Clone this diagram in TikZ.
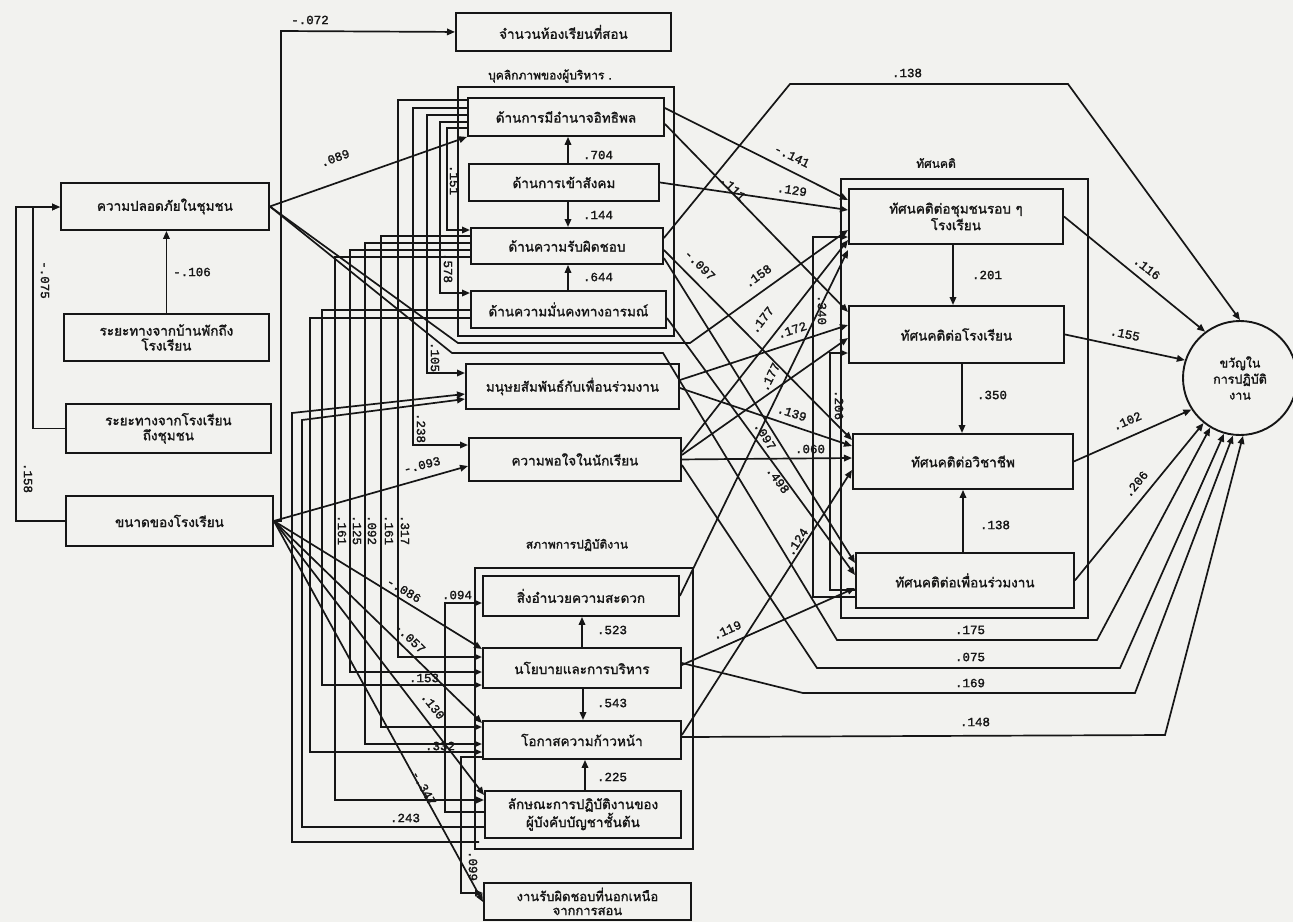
\documentclass[tikz,border=0pt]{standalone}
\usepackage{fontspec}
\newfontfamily\thai[Script=Thai,FakeBold=1.6]{Loma}
\newfontfamily\numf[FakeBold=1.8]{Liberation Mono}
\usetikzlibrary{arrows.meta}
\definecolor{paper}{RGB}{242,242,239}
\definecolor{ink}{RGB}{22,22,22}
\begin{document}
\begin{tikzpicture}[x=1pt,y=-1pt,
  box/.style={draw=ink,line width=1.9pt,inner sep=1pt,align=center,anchor=north west,
    font=\thai\fontsize{13.5}{15}\selectfont,text=ink},
  frm/.style={draw=ink,line width=1.9pt,anchor=north west,inner sep=0pt},
  ln/.style={draw=ink,line width=1.7pt},
  ar/.style={ln,-{Triangle[length=8pt,width=6.5pt]}},
  lab/.style={font=\numf\fontsize{12.5}{12.5}\selectfont,inner sep=0pt,text=ink},
  grp/.style={font=\thai\fontsize{12}{13}\selectfont,text=ink,inner sep=0pt}]
\useasboundingbox (0,0) rectangle (1293,922);
\fill[paper] (0,0) rectangle (1293,922);

% ---------- left column ----------
\node[box,minimum width=208,minimum height=47] (safety) at (60,182) {ความปลอดภัยในชุมชน};
\node[box,minimum width=205,minimum height=47] (dhome) at (63,313) {ระยะทางจากบ้านพักถึง\\โรงเรียน};
\node[box,minimum width=205,minimum height=49] (dcomm) at (65,403) {ระยะทางจากโรงเรียน\\ถึงชุมชน};
\node[box,minimum width=207,minimum height=50] (size) at (65,495) {ขนาดของโรงเรียน};
\node[box,minimum width=215,minimum height=38] (rooms) at (455,12) {จำนวนห้องเรียนที่สอน};

% ---------- personality ----------
\node[grp] (gp) at (550,76) {บุคลิกภาพของผู้บริหาร .};
\node[frm,minimum width=216,minimum height=249] (fp) at (457,86) {};
\node[box,minimum width=196,minimum height=38] (p1) at (467,97) {ด้านการมีอำนาจอิทธิพล};
\node[box,minimum width=190,minimum height=37] (p2) at (468,163) {ด้านการเข้าสังคม};
\node[box,minimum width=192,minimum height=36] (p3) at (470,227) {ด้านความรับผิดชอบ};
\node[box,minimum width=195,minimum height=37] (p4) at (470,290) {ด้านความมั่นคงทางอารมณ์};

\node[box,minimum width=213,minimum height=45] (hr) at (465,363) {มนุษยสัมพันธ์กับเพื่อนร่วมงาน};
\node[box,minimum width=212,minimum height=43] (sat) at (468,437) {ความพอใจในนักเรียน};

% ---------- working conditions ----------
\node[grp] (gw) at (577,545) {สภาพการปฏิบัติงาน};
\node[frm,minimum width=218,minimum height=281] (fw) at (474,567) {};
\node[box,minimum width=196,minimum height=40] (w1) at (482,575) {สิ่งอำนวยความสะดวก};
\node[box,minimum width=198,minimum height=40] (w2) at (482,647) {นโยบายและการบริหาร};
\node[box,minimum width=198,minimum height=38] (w3) at (482,720) {โอกาสความก้าวหน้า};
\node[box,minimum width=196,minimum height=47] (w4) at (484,790) {ลักษณะการปฏิบัติงานของ\\ผู้บังคับบัญชาชั้นต้น};
\node[box,minimum width=207,minimum height=37,font=\thai\fontsize{13}{14}\selectfont] (ex) at (483,882) {งานรับผิดชอบที่นอกเหนือ\\จากการสอน};
\coordinate (fwin) at (479,842);

% ---------- attitudes ----------
\node[grp] (ga) at (936,163) {ทัศนคติ};
\node[frm,minimum width=247,minimum height=439] (fa) at (840,178) {};
\node[box,minimum width=214,minimum height=55] (a1) at (848,188) {ทัศนคติต่อชุมชนรอบ ๆ\\โรงเรียน};
\node[box,minimum width=215,minimum height=57] (a2) at (848,305) {ทัศนคติต่อโรงเรียน};
\node[box,minimum width=220,minimum height=55] (a3) at (852,433) {ทัศนคติต่อวิชาชีพ};
\node[box,minimum width=218,minimum height=55] (a4) at (855,552) {ทัศนคติต่อเพื่อนร่วมงาน};

\node[draw=ink,line width=1.9pt,circle,minimum size=114,inner sep=0pt,align=center,
  font=\thai\fontsize{12.5}{16}\selectfont,text=ink] (morale) at (1240,378) {ขวัญใน\\การปฏิบัติ\\งาน};

% ---------- left connectors ----------
\draw[ar] (dhome.north) -- (dhome.north|-safety.south);
\draw[ar] (dcomm.west) -| (33,207) -- (safety.west|-0,207);
\draw[ar] (size.west) -| (16,207) -- (safety.west|-0,207);
\draw[ar] (size.east) -| (281,31) -- (rooms.west);
\draw[ar] (safety.east) -- (p1.south west);
\draw[ar] (safety.east) -- (458,343) -- (690,343) -- (a1.west|-0,230);
\draw[ar] (safety.east) -- (452,353) -- (663,353) -- (837,640) -- (1097,640) -- (morale.239);
\draw[ar] (size.east) -- (sat.west|-0,466);

% fan from school size
\draw[ar] (size.east) -- (w2.west|-0,649);
\draw[ar] (size.east) -- (w3.west|-0,723);
\draw[ar] (size.east) -- (w4.west|-0,795);
\draw[ar] (size.east) -- (ex.west|-0,902);

% ---------- bus lines ----------
\draw[ar] (p1.west|-0,128) -| (447,230) -- (p3.west|-0,230);
\draw[ar] (p1.west|-0,122) -| (440,293) -- (p4.west|-0,293);
\draw[ar] (p1.west|-0,115) -| (427,373) -- (hr.west|-0,373);
\draw[ar] (p1.west|-0,108) -| (413,445) -- (sat.west|-0,445);
\draw[ar] (p1.west|-0,100) -| (398,657) -- (w2.west|-0,657);
\draw[ar] (p3.west|-0,236) -| (381,727) -- (w3.west|-0,727);
\draw[ar] (p3.west|-0,243) -| (365,744) -- (w3.west|-0,744);
\draw[ar] (p3.west|-0,250) -| (350,672) -- (w2.west|-0,672);
\draw[ar] (p3.west|-0,257) -| (335,800) -- (w4.west|-0,800);
\draw[ar] (p4.west|-0,310) -| (322,685) -- (w2.west|-0,685);
\draw[ar] (p4.west|-0,318) -| (310,752) -- (w3.west|-0,752);
\draw[ar] (w4.west|-0,827) -| (302,420) -- (hr.west|-0,399);
\draw[ar] (fwin) -| (292,413) -- (hr.west|-0,394);
\draw[ar] (w4.west|-0,812) -| (445,603) -- (w1.west|-0,603);
\draw[ar] (w3.west|-0,757) -| (461,893) -- (ex.west|-0,893);

% ---------- inside groups ----------
\draw[ar] (p2.north-|568,0) -- (p1.south-|568,0);
\draw[ar] (p2.south-|568,0) -- (p3.north-|568,0);
\draw[ar] (p4.north-|568,0) -- (p3.south-|568,0);
\draw[ar] (w2.north-|582,0) -- (w1.south-|582,0);
\draw[ar] (w2.south-|583,0) -- (w3.north-|583,0);
\draw[ar] (w4.north-|585,0) -- (w3.south-|585,0);
\draw[ar] (a1.south-|953,0) -- (a2.north-|953,0);
\draw[ar] (a2.south-|962,0) -- (a3.north-|962,0);
\draw[ar] (a4.north-|963,0) -- (a3.south-|963,0);

% ---------- into attitudes ----------
\draw[ar] (p1.east|-0,108) -- (a1.west|-0,200);
\draw[ar] (p2.east) -- (a1.west|-0,210);
\draw[ar] (p1.east|-0,124) -- (a2.west|-0,312);
\draw[ar] (sat.east|-0,452) -- (a1.west|-0,240);
\draw[ar] (w1.east) -- (a1.west|-0,250);
\draw[ar] (hr.east|-0,380) -- (a2.west|-0,325);
\draw[ar] (sat.east|-0,455) -- (a2.west|-0,338);
\draw[ar] (hr.east|-0,388) -- (a3.west|-0,446);
\draw[ar] (p3.east|-0,250) -- (a3.west|-0,440);
\draw[ar] (p3.east|-0,258) -- (a4.west|-0,563);
\draw[ar] (p4.east|-0,318) -- (a4.west|-0,575);
\draw[ar] (sat.east) -- (a3.west|-0,458);
\draw[ar] (w3.east|-0,735) -- (a3.west|-0,470);
\draw[ar] (w2.east|-0,665) -- (a4.west|-0,588);
\draw[ar] (a4.west|-0,597) -| (813,237) -- (a1.west|-0,237);
\draw[ar] (a4.west|-0,590) -| (830,353) -- (a2.west|-0,353);

% ---------- into morale ----------
\draw[ar] (a1.east) -- (morale.127);
\draw[ar] (a2.east) -- (morale.162);
\draw[ar] (a3.east) -- (morale.213);
\draw[ar] (a4.east) -- (morale.231);
\draw[ar] (sat.east|-0,465) -- (817,668) -- (1120,668) -- (morale.254);
\draw[ar] (w2.east|-0,663) -- (803,693) -- (1135,693) -- (morale.263);
\draw[ar] (w3.east|-0,737) -- (1165,735) -- (morale.273);
\draw[ar] (p3.east|-0,238) -- (790,84) -- (1068,84) -- (morale.90);

% ---------- coefficient labels ----------
\node[lab] (c01) at (310,20) {-.072};
\node[lab,rotate=20] (c02) at (335,158) {.089};
\node[lab,rotate=-90] (c03) at (45,280) {-.075};
\node[lab] (c04) at (192,272) {-.106};
\node[lab,rotate=-90] (c05) at (28,478) {.158};
\node[lab] (c06) at (598,155) {.704};
\node[lab] (c07) at (598,215) {.144};
\node[lab] (c08) at (598,277) {.644};
\node[lab,rotate=-90] (c09) at (454,180) {.151};
\node[lab,rotate=-90] (c10) at (448,268) {.578};
\node[lab,rotate=-90] (c11) at (435,357) {.105};
\node[lab,rotate=-90] (c12) at (421,428) {.238};
\node[lab,rotate=14] (c13) at (422,465) {-.093};
\node[lab,rotate=-90] (c14) at (342,530) {.161};
\node[lab,rotate=-90] (c15) at (357,530) {.125};
\node[lab,rotate=-90] (c16) at (372,530) {.092};
\node[lab,rotate=-90] (c17) at (389,530) {.161};
\node[lab,rotate=-90] (c18) at (405,530) {.317};
\node[lab,rotate=-31] (c19) at (404,590) {-.086};
\node[lab] (c20) at (457,595) {.094};
\node[lab,rotate=-44] (c21) at (410,638) {-.057};
\node[lab] (c22) at (424,678) {.153};
\node[lab,rotate=-52] (c23) at (433,706) {.130};
\node[lab] (c24) at (440,746) {.332};
\node[lab,rotate=-61] (c25) at (424,788) {-.347};
\node[lab] (c26) at (405,818) {.243};
\node[lab,rotate=-90] (c27) at (473,866) {.099};
\node[lab] (c28) at (612,630) {.523};
\node[lab] (c29) at (612,703) {.543};
\node[lab] (c30) at (612,777) {.225};
\node[lab,rotate=-26] (c31) at (792,156) {-.141};
\node[lab,rotate=-9] (c32) at (792,190) {.129};
\node[lab,rotate=-45] (c33) at (733,188) {.111};
\node[lab,rotate=-45] (c34) at (700,265) {-.097};
\node[lab,rotate=36] (c35) at (758,276) {.158};
\node[lab,rotate=52] (c36) at (762,320) {.177};
\node[lab,rotate=18] (c37) at (792,330) {.172};
\node[lab,rotate=-90] (c38) at (822,310) {.340};
\node[lab,rotate=64] (c39) at (770,377) {.177};
\node[lab,rotate=-90] (c40) at (839,405) {.206};
\node[lab,rotate=-18] (c41) at (792,413) {.139};
\node[lab,rotate=-58] (c42) at (765,436) {.097};
\node[lab] (c43) at (810,449) {.060};
\node[lab,rotate=-54] (c44) at (778,480) {.498};
\node[lab,rotate=57] (c45) at (797,542) {.124};
\node[lab,rotate=24] (c46) at (727,630) {.119};
\node[lab] (c47) at (987,275) {.201};
\node[lab] (c48) at (992,395) {.350};
\node[lab] (c49) at (995,525) {.138};
\node[lab] (c50) at (970,630) {.175};
\node[lab] (c51) at (970,657) {.075};
\node[lab] (c52) at (970,683) {.169};
\node[lab] (c53) at (975,722) {.148};
\node[lab] (c54) at (907,73) {.138};
\node[lab,rotate=-38] (c55) at (1147,268) {.116};
\node[lab,rotate=-12] (c56) at (1125,334) {.155};
\node[lab,rotate=23] (c57) at (1127,421) {.102};
\node[lab,rotate=50] (c58) at (1136,484) {.206};
\end{tikzpicture}
\end{document}
